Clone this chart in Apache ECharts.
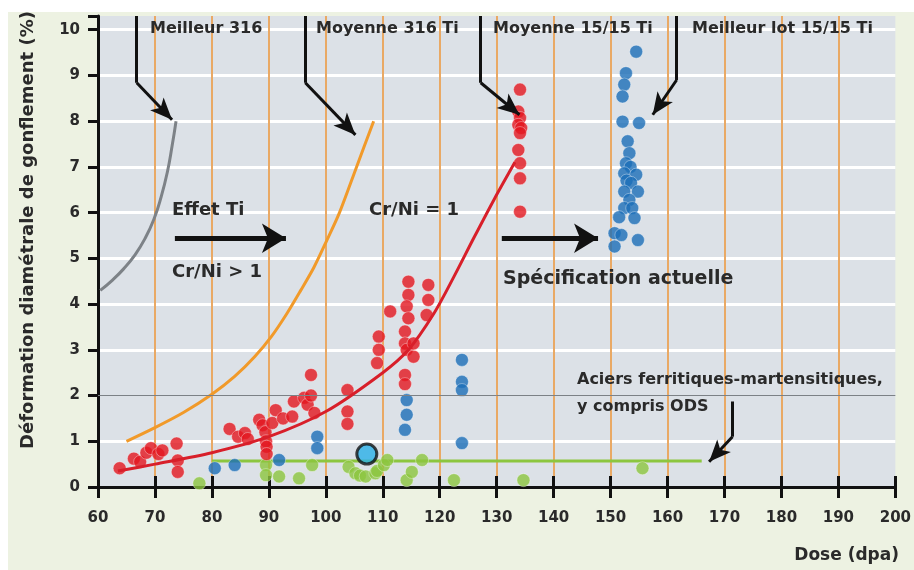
<!DOCTYPE html>
<html>
<head>
<meta charset="utf-8">
<script src="https://cdn.jsdelivr.net/npm/echarts@6/dist/echarts.min.js"></script>
<style>
html, body { margin: 0; padding: 0; background: #fff; }
#chart { width: 914px; height: 570px; }
</style>
</head>
<body>
<div id="chart"></div>
<script>
// ---- data ----
var xTicks = [60, 70, 80, 90, 100, 110, 120, 130, 140, 150, 160, 170, 180, 190, 200];
var yTicks = [0, 1, 2, 3, 4, 5, 6, 7, 8, 9, 10];

// fitted curves [dose, swelling %]
var best316 = [[60.4, 4.3], [62.5, 4.52], [64.5, 4.77], [66.4, 5.06], [68.2, 5.42], [69.8, 5.85], [71.1, 6.35], [72.2, 6.9], [73.0, 7.45], [73.7, 8.0]];
var mean316Ti = [[65, 1.0], [70, 1.3], [75, 1.63], [80, 2.03], [84, 2.42], [87.5, 2.85], [90.5, 3.3], [93.2, 3.8], [95.6, 4.3],
  [97.9, 4.8], [100.2, 5.4], [102.4, 6.0], [105.4, 7.0], [108.4, 8.0]];
var mean1515Ti = [[63.5, 0.35], [70, 0.5], [80, 0.75], [90, 1.1], [100, 1.65], [110, 2.5], [114.5, 3.0], [119, 3.8], [122.5, 4.6],
  [126, 5.45], [129.6, 6.3], [133.2, 7.1]];
var ferritic = [[80, 0.57], [166, 0.57]];

// measured points
var redPts = [
  [63.8, 0.41], [66.3, 0.62], [67.4, 0.55], [68.5, 0.75], [69.3, 0.85], [70.6, 0.72], [71.3, 0.8], [73.8, 0.95], [74, 0.58], [74, 0.33],
  [83.1, 1.27], [84.6, 1.1], [85.8, 1.18], [86.3, 1.05], [88.3, 1.47], [88.9, 1.35], [89.4, 1.2], [89.5, 1.0], [89.6, 0.88], [89.6, 0.72],
  [90.6, 1.4], [91.2, 1.68], [92.5, 1.5], [94.1, 1.54], [94.4, 1.87], [96.2, 1.95], [96.8, 1.8], [97.4, 2.45], [97.4, 2.0], [98, 1.62],
  [103.8, 2.12], [103.8, 1.65], [103.8, 1.38], [109.3, 3.29], [109.3, 3.0], [109, 2.71], [111.3, 3.84],
  [114.5, 4.49], [114.5, 4.2], [114.2, 3.95], [114.5, 3.69], [113.9, 3.4], [113.9, 3.14], [114.2, 3.0], [115.4, 2.85], [115.4, 3.14],
  [113.9, 2.45], [113.9, 2.25], [118, 4.42], [118, 4.09], [117.7, 3.76],
  [134.1, 8.69], [133.8, 8.21], [134.1, 8.07], [133.8, 7.92], [134.3, 7.85], [134.1, 7.74], [133.8, 7.37], [134.1, 7.08], [134.1, 6.75], [134.1, 6.02]
];
var bluePts = [
  [80.5, 0.41], [84, 0.48], [91.8, 0.59], [98.5, 1.1], [98.5, 0.85],
  [114.2, 1.9], [114.2, 1.58], [113.9, 1.25], [123.9, 2.78], [123.9, 2.3], [123.9, 2.12], [123.9, 0.96],
  [154.5, 9.52], [152.7, 9.05], [152.4, 8.8], [152.1, 8.54], [152.1, 7.99], [155, 7.96], [153, 7.56], [153.3, 7.3], [152.7, 7.08],
  [153.5, 7.0], [152.4, 6.86], [154.5, 6.83], [152.8, 6.7], [153.6, 6.65], [152.4, 6.46], [154.8, 6.46], [153.3, 6.28], [152.4, 6.1],
  [153.8, 6.1], [151.5, 5.9], [154.2, 5.88], [150.7, 5.55], [151.9, 5.51], [150.7, 5.26], [154.8, 5.4]
];
var greenPts = [
  [77.8, 0.08], [89.5, 0.48], [89.5, 0.26], [91.8, 0.23], [95.3, 0.19], [97.6, 0.48], [104, 0.44], [105.2, 0.3], [106, 0.25],
  [107, 0.23], [108.7, 0.3], [109, 0.35], [110.2, 0.48], [110.8, 0.59], [114.2, 0.15], [115.1, 0.33], [116.9, 0.59],
  [122.5, 0.15], [134.7, 0.15], [155.6, 0.41]
];
var highlightPt = [[107.2, 0.72]];

// annotation arrows [start, end] in data units
var arrowBends = [
  [[66.8, 10.3], [66.8, 8.84]],
  [[96.4, 10.3], [96.4, 8.84]],
  [[127.2, 10.3], [127.2, 8.84]],
  [[161.6, 10.3], [161.6, 8.9]],
  [[171.4, 1.87], [171.4, 1.1]]
];
var arrowHeads = [
  [[66.8, 8.84], [73.0, 8.03]],
  [[96.4, 8.84], [105.2, 7.7]],
  [[127.2, 8.84], [134.0, 8.14]],
  [[161.6, 8.9], [157.4, 8.14]],
  [[171.4, 1.1], [167.3, 0.55]]
];
var bigArrows = [
  [[73.5, 5.44], [93.0, 5.44]],
  [[130.9, 5.44], [147.8, 5.44]]
];

var FONT = 'DejaVu Sans';
var INK = '#2a2a2a';

var chart = echarts.init(document.getElementById('chart'));

function lineMarks() {
  var out = [];
  arrowBends.forEach(function (s) {
    out.push([{ coord: s[0], symbol: 'none' }, { coord: s[1], symbol: 'none', lineStyle: { width: 3 } }]);
  });
  arrowHeads.forEach(function (s) {
    out.push([{ coord: s[0], symbol: 'none' }, { coord: s[1], symbol: 'arrow', symbolSize: [14, 22] }]);
  });
  bigArrows.forEach(function (s) {
    out.push([{ coord: s[0], symbol: 'none', lineStyle: { width: 5 } }, { coord: s[1], symbol: 'arrow', symbolSize: [22, 24] }]);
  });
  // thin dark line at 2 %
  out.push([{ coord: [60, 2], symbol: 'none', lineStyle: { color: '#7c8186', width: 1 } }, { coord: [200, 2], symbol: 'none' }]);
  return out;
}

function txt(text, x, y, size, align) {
  return {
    type: 'text', x: x, y: y, z: 100,
    style: {
      text: text, fill: INK, align: align || 'left', verticalAlign: 'middle',
      fontFamily: FONT, fontWeight: 'bold', fontSize: size
    }
  };
}

var xSplitColors = xTicks.map(function (v, i) {
  return (i === 0 || i === xTicks.length - 1) ? 'rgba(0,0,0,0)' : '#e9a965';
});
var ySplitColors = yTicks.map(function (v) { return v === 2 ? 'rgba(0,0,0,0)' : '#ffffff'; });
ySplitColors.push('rgba(0,0,0,0)');

var dot = function (color) {
  return { color: color, borderColor: 'rgba(255,255,255,0.45)', borderWidth: 1 };
};

option = {
  animation: false,
  backgroundColor: '#edf2e2',
  grid: {
    show: true, left: 98, right: 15, top: 16, bottom: 83,
    backgroundColor: '#dce1e7', borderWidth: 0
  },
  xAxis: [{
    type: 'value', min: 60, max: 200, interval: 10, position: 'bottom',
    axisLine: { lineStyle: { color: '#111', width: 3 } },
    axisTick: { show: true, length: 11, lineStyle: { color: '#111', width: 3 } },
    axisLabel: { color: INK, fontFamily: FONT, fontWeight: 'bold', fontSize: 15, margin: 24 },
    splitLine: { show: true, lineStyle: { color: xSplitColors, width: 2 } }
  }, {
    type: 'value', min: 60, max: 200, interval: 10, position: 'bottom',
    axisLine: { show: false },
    axisTick: { show: true, inside: true, length: 11, lineStyle: { color: '#111', width: 3 } },
    axisLabel: { show: false },
    splitLine: { show: false }
  }],
  yAxis: {
    type: 'value', min: 0, max: 10.3, interval: 1,
    axisLine: { show: true, lineStyle: { color: '#111', width: 3 } },
    axisTick: { show: true, length: 10, lineStyle: { color: '#111', width: 3 } },
    axisLabel: {
      color: INK, fontFamily: FONT, fontWeight: 'bold', fontSize: 15, margin: 18,
      formatter: function (v) { return Math.abs(v - Math.round(v)) < 1e-6 ? String(Math.round(v)) : ''; }
    },
    splitLine: { show: true, showMaxLine: false, lineStyle: { color: ySplitColors, width: 3 } }
  },
  series: [
    {
      type: 'line', data: ferritic, symbol: 'none', z: 3,
      lineStyle: { color: '#8cc63f', width: 3 },
      markLine: {
        silent: true, animation: false, symbol: 'none',
        label: { show: false },
        lineStyle: { color: '#111', width: 3, type: 'solid' },
        emphasis: { disabled: true },
        data: lineMarks()
      }
    },
    { type: 'line', data: best316, smooth: 0.5, symbol: 'none', z: 3, lineStyle: { color: '#7d8287', width: 3 } },
    { type: 'line', data: mean316Ti, smooth: 0.3, symbol: 'none', z: 3, lineStyle: { color: '#f19a2a', width: 3 } },
    { type: 'scatter', data: greenPts, symbolSize: 13, z: 4, itemStyle: dot('#8cc63f') },
    { type: 'scatter', data: bluePts, symbolSize: 13, z: 4, itemStyle: dot('#1b6eb8') },
    { type: 'scatter', data: redPts, symbolSize: 13, z: 4, itemStyle: dot('#e3161f') },
    { type: 'line', data: mean1515Ti, smooth: 0.3, symbol: 'none', z: 5, lineStyle: { color: '#d81f2a', width: 3 } },
    {
      type: 'scatter', data: highlightPt, symbolSize: 20, z: 6,
      itemStyle: { color: '#2bb0e8', borderColor: '#111', borderWidth: 3 }
    }
  ],
  graphic: [
    { type: 'rect', shape: { x: 0, y: 0, width: 914, height: 12 }, style: { fill: '#fff' }, z: -1 },
    { type: 'rect', shape: { x: 0, y: 0, width: 8, height: 570 }, style: { fill: '#fff' }, z: -1 },
    {
      type: 'text', x: 28, y: 230, rotation: Math.PI / 2, z: 100,
      style: {
        text: 'Déformation diamétrale de gonflement (%)', fill: INK, align: 'center', verticalAlign: 'middle',
        fontFamily: FONT, fontWeight: 'bold', fontSize: 18
      }
    },
    txt('Dose (dpa)', 899, 556, 17, 'right'),
    txt('Meilleur 316', 150, 29, 16),
    txt('Moyenne 316 Ti', 316, 29, 16),
    txt('Moyenne 15/15 Ti', 493, 29, 16),
    txt('Meilleur lot 15/15 Ti', 692, 29, 16),
    txt('Effet Ti', 172, 210, 18),
    txt('Cr/Ni > 1', 172, 272, 18),
    txt('Cr/Ni = 1', 369, 210, 18),
    txt('Spécification actuelle', 503, 279, 19),
    txt('Aciers ferritiques-martensitiques,', 577, 380, 16),
    txt('y compris ODS', 577, 407, 16)
  ]
};

chart.setOption(option);
</script>
</body>
</html>
